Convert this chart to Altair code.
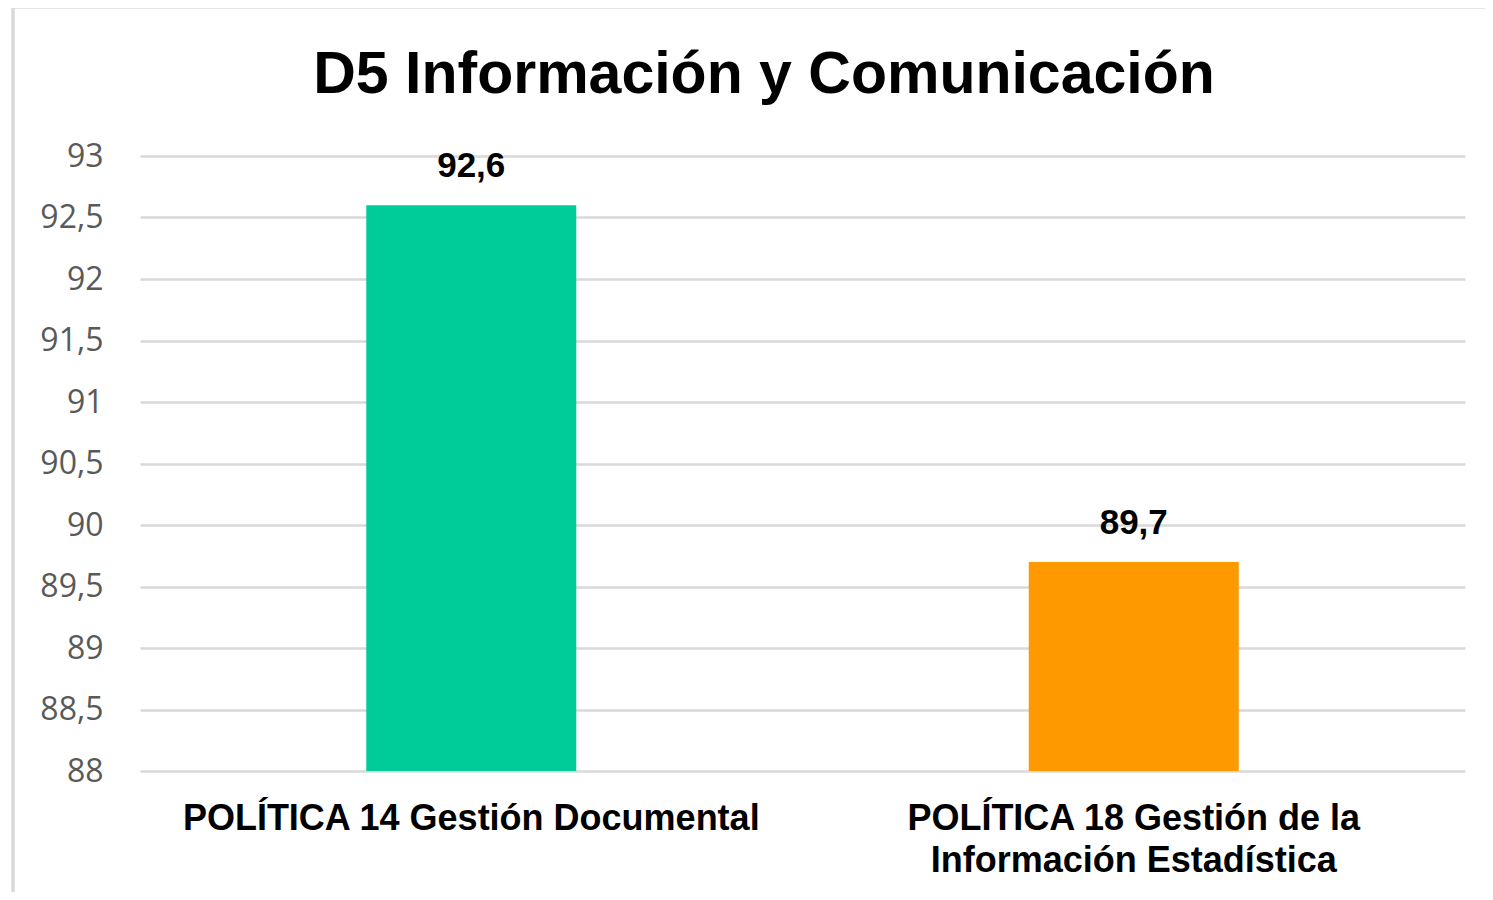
import altair as alt
import pandas as pd

categories = ["POLÍTICA 14 Gestión Documental",
              "POLÍTICA 18 Gestión de la Información Estadística"]
values = [92.6, 89.7]
colors = ["#00CC99", "#FF9900"]
y_ticks = [88, 88.5, 89, 89.5, 90, 90.5, 91, 91.5, 92, 92.5, 93]
title_text = "D5 Información y Comunicación"

df = pd.DataFrame({"cat": categories, "val": values})

W, H = 1325, 615

x_enc = alt.X("cat:N", sort=categories, title=None,
              scale=alt.Scale(paddingInner=0, paddingOuter=0),
              axis=alt.Axis(labelAngle=0, labelFont="Liberation Sans", labelFontWeight="bold",
                            labelFontSize=36, labelColor="#000000", labelPadding=30,
                            labelLineHeight=42, labelLimit=0, domain=False, ticks=False,
                            grid=False,
                            labelExpr="datum.label == '" + categories[1] + "' ? ['POLÍTICA 18 Gestión de la', 'Información Estadística'] : datum.label"))

y_enc = alt.Y("val:Q", title=None,
              scale=alt.Scale(domain=[88, 93], zero=False, nice=False),
              axis=alt.Axis(values=y_ticks, labelExpr="replace('' + datum.value, '.', ',')",
                            labelFont="Open Sans", labelFontSize=32, labelColor="#595959",
                            labelPadding=37, domain=False, ticks=False,
                            gridColor="#d9d9d9", gridWidth=2.5))

base = alt.Chart(df)

bars = base.mark_bar(size=210).encode(
    x=x_enc, y=y_enc, y2=alt.datum(88),
    color=alt.Color("cat:N", scale=alt.Scale(domain=categories, range=colors), legend=None),
)

labels = base.transform_calculate(
    lbl="replace(format(datum.val, '.1f'), '.', ',')"
).mark_text(font="Liberation Sans", fontWeight="bold", fontSize=35, color="#000000",
            baseline="alphabetic", dy=-28).encode(
    x=alt.X("cat:N", sort=categories), y="val:Q", text="lbl:N")

title = alt.Chart(pd.DataFrame({"t": [title_text]})).mark_text(
    font="Liberation Sans", fontWeight="bold", fontSize=59, color="#000000",
    baseline="alphabetic", align="center").encode(
    text="t:N", x=alt.value(624), y=alt.value(-63))

border = alt.Chart(df).mark_rect(fill="transparent", stroke="#d9d9d9", strokeWidth=3).encode(
    x=alt.value(-127), x2=alt.value(W + 80), y=alt.value(-149), y2=alt.value(H + 200))

chart = alt.layer(border, bars, labels, title).properties(
    width=W, height=H,
    background="#ffffff",
    autosize=alt.AutoSizeParams(type="none"),
    padding={"left": 132, "top": 148, "right": 20, "bottom": 121},
).configure_view(stroke="transparent", strokeWidth=0)

chart.save("out.html", embed_options={"renderer": "svg", "actions": False})
